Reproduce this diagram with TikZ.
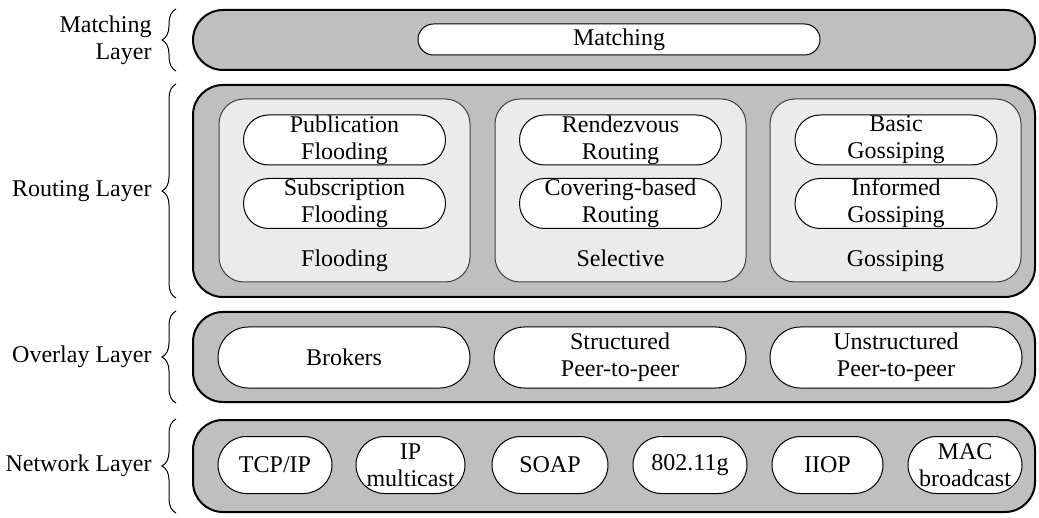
\documentclass[tikz,border=0pt]{standalone}
\usepackage{fontspec}
\setmainfont{Liberation Serif}
\newfontfamily\layerfont{Liberation Serif}
\usetikzlibrary{positioning,decorations.pathreplacing}
\begin{document}
\begin{tikzpicture}[x=0.5pt, y=-0.5pt, font=\layerfont\fontsize{12}{13.5}\selectfont,
  layer/.style={draw, line width=1pt, fill=black!25, rounded corners=15pt, minimum width=421pt, minimum height=#1},
  group/.style={draw=black!75, line width=0.5pt, fill=black!8, rounded corners=12.5pt, minimum width=125.5pt, minimum height=91.5pt},
  pill/.style={draw, line width=0.5pt, fill=white, align=center, inner sep=0pt, minimum height=#1, rounded corners=#1/2-0.01pt},
  brace/.style={decorate, decoration={brace, amplitude=7pt}, line width=0.5pt},
  lbl/.style={left=12pt, inner sep=0pt, align=right}]
\useasboundingbox (0,0) rectangle (1039,518);
% layers
\node[layer=30pt] (match) at (614,40) {};
\node[layer=106pt] (route) at (614,191) {};
\node[layer=45pt] (over) at (614,357) {};
\node[layer=46pt] (net) at (614,466) {};
\draw[brace] ([xshift=-8pt]match.south west) -- ([xshift=-8pt]match.north west) node[midway, lbl] (matchlbl) {Matching\\Layer};
\draw[brace] ([xshift=-8pt]route.south west) -- ([xshift=-8pt]route.north west) node[midway, lbl] (routelbl) {Routing Layer};
\draw[brace] ([xshift=-8pt]over.south west) -- ([xshift=-8pt]over.north west) node[midway, lbl] (overlbl) {Overlay Layer};
\draw[brace] ([xshift=-8pt]net.south west) -- ([xshift=-8pt]net.north west) node[midway, lbl] (netlbl) {Network Layer};
% matching
\node[pill=15.5pt, minimum width=201pt] (matching) at (619,39.5) {Matching};
% routing
\foreach \n/\x/\l in {flood/344.5/Flooding, sel/620.5/Selective, gossip/895.5/Gossiping} {
  \node[group] (\n) at (\x,190.5) {};
  \node[anchor=base] (\n-l) at (\x,267) {\l};
}
\foreach \n/\x/\t in {pub/344.5/{Publication\\Flooding}, rend/620.5/{Rendezvous\\Routing}, basic/896/{Basic\\Gossiping}}
  \node[pill=25pt, minimum width=101pt] (\n) at (\x,140) {\t};
\foreach \n/\x/\t in {sub/344.5/{Subscription\\Flooding}, cov/620.5/{Covering-based\\Routing}, inf/896/{Informed\\Gossiping}}
  \node[pill=25pt, minimum width=101pt] (\n) at (\x,203.5) {\t};
% overlay
\foreach \n/\x/\t in {brok/344/Brokers, struct/620/{Structured\\Peer-to-peer}, unstruct/896/{Unstructured\\Peer-to-peer}}
  \node[pill=30.5pt, minimum width=126pt] (\n) at (\x,357.5) {\t};
% network
\foreach \n/\x/\w/\t in {tcp/275/57/{TCP/IP}, ipm/410.5/54.5/{IP\\multicast}, soap/550/58/SOAP, wlan/690/57/802.11g, iiop/827.5/55.5/IIOP, mac/965/57/{MAC\\broadcast}}
  \node[pill=28.5pt, minimum width=\w pt] (\n) at (\x,465) {\t};
\end{tikzpicture}
\end{document}
